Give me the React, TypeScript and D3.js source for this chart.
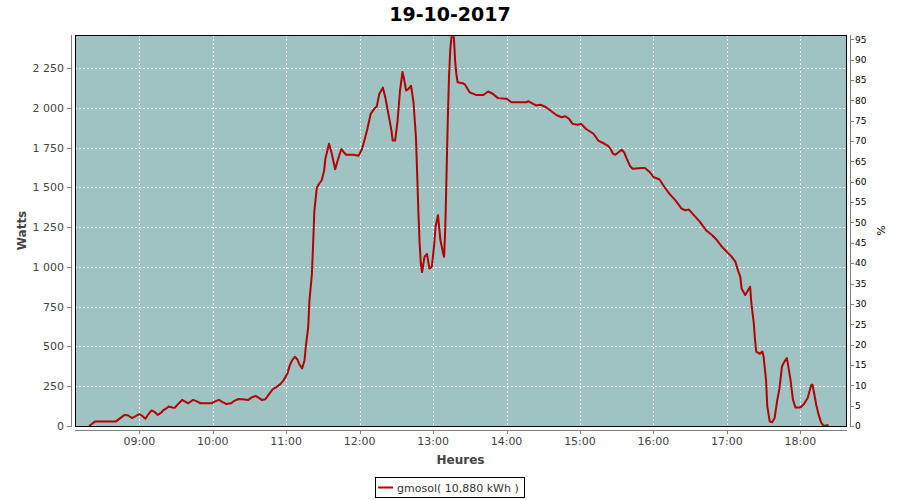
import React from "react";
import * as d3 from "d3";

const title = "19-10-2017";
const seriesName = "gmosol( 10,880 kWh )";
const xLabel = "Heures";
const yLabel = "Watts";
const y2Label = "%";

const times: string[] = [
  "08:19","08:24","08:41","08:48","08:51","08:54","08:57","09:00","09:02","09:05",
  "09:08","09:10","09:13","09:15","09:18","09:20","09:22","09:24","09:27","09:29",
  "09:31","09:35","09:37","09:40","09:44","09:47","09:50","09:59","10:02","10:05",
  "10:08","10:11","10:15","10:18","10:21","10:26","10:29","10:32","10:35","10:38",
  "10:40","10:43","10:46","10:49","10:52","10:55","10:58","11:01","11:03","11:05",
  "11:07","11:09","11:11","11:13","11:15","11:16","11:18","11:19","11:21","11:22",
  "11:23","11:25","11:27","11:29","11:31","11:32","11:35","11:37","11:40","11:42",
  "11:45","11:47","11:49","11:55","11:59","12:02","12:06","12:09","12:12","12:14",
  "12:16","12:19","12:21","12:24","12:26","12:27","12:29","12:31","12:33","12:35",
  "12:36","12:38","12:40","12:42","12:44","12:46","12:47","12:48","12:49","12:50",
  "12:51","12:53","12:55","12:57","12:59","13:01","13:02","13:04","13:06","13:08",
  "13:09","13:10","13:11","13:12","13:13","13:14","13:15","13:17","13:18","13:19",
  "13:20","13:24","13:26","13:30","13:35","13:41","13:45","13:49","13:53","14:00",
  "14:04","14:16","14:18","14:24","14:28","14:32","14:41","14:45","14:48","14:51",
  "14:54","14:58","15:01","15:05","15:11","15:15","15:20","15:23","15:25","15:27",
  "15:29","15:31","15:34","15:36","15:38","15:41","15:43","15:51","15:53","15:57",
  "16:00","16:05","16:09","16:13","16:18","16:23","16:26","16:29","16:33","16:38",
  "16:43","16:48","16:52","16:56","17:00","17:04","17:07","17:09","17:11","17:12",
  "17:15","17:19","17:20","17:22","17:23","17:24","17:27","17:29","17:30","17:32",
  "17:33","17:35","17:37","17:39","17:41","17:43","17:45","17:47","17:49","17:50",
  "17:52","17:54","17:56","18:00","18:03","18:06","18:09","18:10","18:11","18:13",
  "18:15","18:17","18:19","18:23"
];

const watts: number[] = [
  0,29,29,70,66,50,62,75,66,46,
  80,98,85,70,85,102,110,123,116,114,
  133,164,155,143,164,155,143,143,155,164,
  150,139,143,160,170,166,164,180,189,175,
  164,168,200,231,245,262,289,330,383,415,
  435,420,385,362,414,498,623,789,956,1144,
  1352,1498,1525,1545,1605,1680,1775,1720,1615,1668,
  1742,1722,1706,1706,1700,1742,1858,1962,1996,2010,
  2088,2128,2066,1942,1858,1795,1795,1920,2110,2226,
  2194,2110,2120,2140,2036,1816,1586,1346,1148,1022,
  968,1064,1082,990,1002,1148,1252,1326,1168,1095,
  1064,1252,1586,1920,2194,2362,2445,2445,2298,2214,
  2162,2156,2148,2098,2082,2082,2104,2088,2062,2058,
  2036,2036,2042,2016,2020,2006,1954,1942,1948,1932,
  1900,1895,1900,1868,1838,1795,1775,1762,1742,1712,
  1706,1718,1737,1722,1685,1633,1618,1622,1622,1597,
  1566,1550,1503,1461,1419,1367,1357,1361,1326,1284,
  1231,1200,1168,1127,1095,1064,1032,980,938,865,
  824,876,772,646,541,468,454,468,437,290,
  124,29,23,50,155,238,374,405,427,384,
  290,165,117,117,138,176,259,259,217,134,
  70,23,0,6
];

const hourTicks: string[] = ["09:00","10:00","11:00","12:00","13:00","14:00","15:00","16:00","17:00","18:00"];
const wattTicks: number[] = [0,250,500,750,1000,1250,1500,1750,2000,2250];
const pctTicks: number[] = [0,5,10,15,20,25,30,35,40,45,50,55,60,65,70,75,80,85,90,95];

const toH = (s: string) => {
  const [h, m] = s.split(":").map(Number);
  return h + m / 60;
};

const W = 900, H = 500;
const pL = 75, pT = 35, pR = 846, pB = 426;

export default function App() {
  const x = d3.scaleLinear().domain([8.1245, 18.622]).range([pL, pR]);
  const y = d3.scaleLinear().domain([0, 2459]).range([pB, pT]);
  const y2 = d3.scaleLinear().domain([0, 96.05]).range([pB, pT]);
  const fr = d3.formatLocale({ decimal: ",", thousands: " ", grouping: [3], currency: ["", " €"] }).format(",d");

  const data = times.map((t, i) => [toH(t), watts[i]] as [number, number]);
  const line = d3.line<[number, number]>().x(d => x(d[0])).y(d => y(d[1]));

  const font = "'DejaVu Sans', sans-serif";

  return (
    <svg width={W} height={H} style={{ position: "absolute", left: 0, top: 0, background: "#fff" }}>
      <text x={450} y={21} textAnchor="middle" fontFamily={font} fontWeight="bold" fontSize={19} fill="#000">{title}</text>
      <rect x={pL} y={pT} width={pR - pL} height={pB - pT} fill="#9EC3C2" />
      <g stroke="#fff" strokeWidth={1} strokeDasharray="2,2">
        {wattTicks.filter(v => v > 0).map(v => (
          <line key={"h" + v} x1={pL} x2={pR} y1={Math.round(y(v)) + 0.5} y2={Math.round(y(v)) + 0.5} />
        ))}
        {hourTicks.map(t => (
          <line key={"v" + t} x1={Math.round(x(toH(t))) + 0.5} x2={Math.round(x(toH(t))) + 0.5} y1={pT} y2={pB} />
        ))}
      </g>
      <path d={line(data) || ""} fill="none" stroke="#B40000" strokeWidth={2} strokeLinejoin="round" />
      <rect x={pL + 0.5} y={pT + 0.5} width={pR - pL} height={pB - pT} fill="none" stroke="#000" strokeWidth={1} />

      {/* left axis */}
      <line x1={71.5} x2={71.5} y1={pT} y2={pB + 1} stroke="#808080" />
      {wattTicks.map(v => (
        <g key={"lt" + v}>
          <line x1={67} x2={71} y1={Math.round(y(v)) + 0.5} y2={Math.round(y(v)) + 0.5} stroke="#808080" />
          <text x={64} y={y(v) + 4} textAnchor="end" fontFamily={font} fontSize={11} fill="#444">{fr(v)}</text>
        </g>
      ))}
      <text transform={`translate(26,${(pT + pB) / 2}) rotate(-90)`} textAnchor="middle" fontFamily={font} fontWeight="bold" fontSize={12} fill="#444">{yLabel}</text>

      {/* right axis */}
      <line x1={850.5} x2={850.5} y1={pT} y2={pB + 1} stroke="#808080" />
      {pctTicks.map(v => (
        <g key={"rt" + v}>
          <line x1={851} x2={854} y1={Math.round(y2(v)) + 0.5} y2={Math.round(y2(v)) + 0.5} stroke="#808080" />
          <text x={855} y={y2(v) + 3.3} textAnchor="start" fontFamily={font} fontSize={9} fill="#000">{v}</text>
        </g>
      ))}
      <text transform={`translate(885,${(pT + pB) / 2}) rotate(-90)`} textAnchor="middle" fontFamily={font} fontSize={11} fill="#000">{y2Label}</text>

      {/* bottom axis */}
      <line x1={pL} x2={pR + 1} y1={430.5} y2={430.5} stroke="#808080" />
      {hourTicks.map(t => (
        <g key={"bt" + t}>
          <line x1={Math.round(x(toH(t))) + 0.5} x2={Math.round(x(toH(t))) + 0.5} y1={431} y2={434} stroke="#808080" />
          <text x={x(toH(t))} y={445} textAnchor="middle" fontFamily={font} fontSize={11} fill="#444">{t}</text>
        </g>
      ))}
      <text x={(pL + pR) / 2} y={464} textAnchor="middle" fontFamily={font} fontWeight="bold" fontSize={12} fill="#444">{xLabel}</text>

      {/* legend */}
      <rect x={375.5} y={477.5} width={149} height={20} fill="#fff" stroke="#000" />
      <line x1={378} x2={393} y1={487.5} y2={487.5} stroke="#B40000" strokeWidth={2} />
      <text x={397} y={491.5} fontFamily={font} fontSize={11} fill="#333">{seriesName}</text>
    </svg>
  );
}
